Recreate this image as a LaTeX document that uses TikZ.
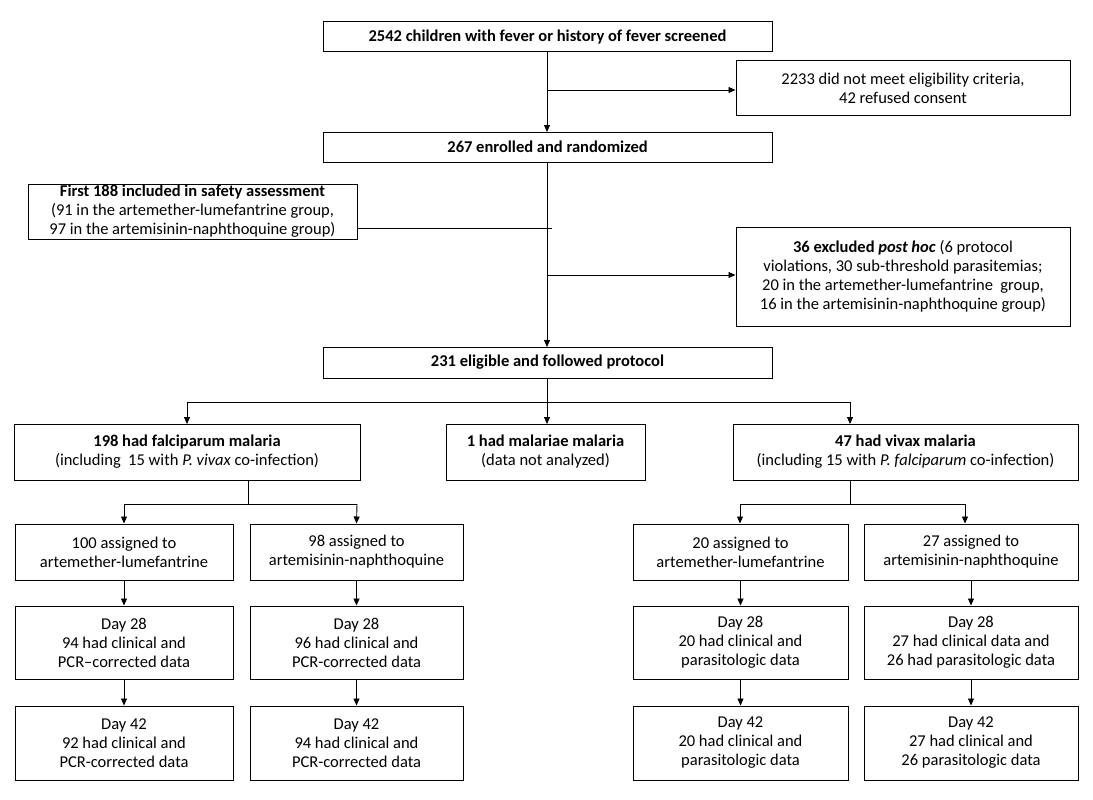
\documentclass[tikz,border=0pt]{standalone}
\usepackage{fontspec}
\setmainfont{Carlito}
\usetikzlibrary{arrows.meta}
\begin{document}
\begin{tikzpicture}[x=1pt,y=-1pt,
 bx/.style={draw,line width=1pt,align=center,inner sep=0pt,font=\fontsize{16.5}{19}\selectfont},
 ar/.style={-{Triangle[length=7pt,width=6pt]},line width=0.9pt},
 ln/.style={line width=0.9pt}]
\useasboundingbox (0,0) rectangle (1093,800);
\newcommand\B[6]{\node[bx,minimum width=#4-#2,minimum height=#5-#3] (#1) at ({(#2+#4)/2},{(#3+#5)/2}) {#6};}
\B{top}{323}{22}{772}{52}{\textbf{2542 children with fever or history of fever screened}}
\B{ex1}{736}{61}{1070}{115}{2233 did not meet eligibility criteria,\\42 refused consent}
\B{enr}{323}{132}{772}{162}{\textbf{267 enrolled and randomized}}
\B{saf}{28}{184}{357}{239}{\textbf{First 188 included in safety assessment}\\(91 in the artemether-lumefantrine group,\\97 in the artemisinin-naphthoquine group)}
\B{ex2}{736}{227}{1070}{326}{\textbf{36 excluded \textit{post hoc}} (6 protocol\\violations, 30 sub-threshold parasitemias;\\20 in the artemether-lumefantrine \ group,\\16 in the artemisinin-naphthoquine group)}
\B{eli}{323}{347}{772}{378}{\textbf{231 eligible and followed protocol}}
\B{fal}{14}{424}{360}{480}{\textbf{198 had falciparum malaria}\\(including \ 15 with \textit{P. vivax} co-infection)}
\B{mal}{446}{424}{645}{480}{\textbf{1 had malariae malaria}\\(data not analyzed)}
\B{viv}{733}{424}{1078}{480}{\textbf{47 had vivax malaria}\\(including 15 with \textit{P. falciparum} co-infection)}
\B{a1}{15}{524}{233}{580}{100 assigned to\\artemether-lumefantrine}
\B{a2}{250}{524}{463}{580}{98 assigned to\\artemisinin-naphthoquine}
\B{a3}{633}{524}{848}{580}{20 assigned to\\artemether-lumefantrine}
\B{a4}{864}{524}{1078}{580}{27 assigned to\\artemisinin-naphthoquine}
\B{b1}{15}{606}{233}{679}{Day 28\\94 had clinical and\\PCR–corrected data}
\B{b2}{250}{606}{463}{679}{Day 28\\96 had clinical and\\PCR-corrected data}
\B{b3}{633}{606}{848}{679}{Day 28\\20 had clinical and\\parasitologic data}
\B{b4}{864}{606}{1078}{679}{Day 28\\27 had clinical data and\\26 had parasitologic data}
\B{c1}{15}{706}{233}{780}{Day 42\\92 had clinical and\\PCR-corrected data}
\B{c2}{250}{706}{463}{780}{Day 42\\94 had clinical and\\PCR-corrected data}
\B{c3}{633}{706}{848}{780}{Day 42\\20 had clinical and\\parasitologic data}
\B{c4}{864}{706}{1078}{780}{Day 42\\27 had clinical and\\26 parasitologic data}
\draw[ar] (547,52) -- (547,132);
\draw[ar] (547,90) -- (ex1.west|-0,90);
\draw[ar] (547,162) -- (547,347);
\draw[ln] (saf.east|-0,228) -- (552,228);
\draw[ar] (547,275) -- (ex2.west|-0,275);
\draw[ln] (547,378) -- (547,402);
\draw[ln] (187,402) -- (850,402);
\draw[ar] (187,402) -- (187,424);
\draw[ar] (547,402) -- (547,424);
\draw[ar] (850,402) -- (850,424);
\draw[ln] (248,480) -- (248,504);
\draw[ln] (124,504) -- (357,504);
\draw[ar] (124,504) -- (a1.north);
\draw[ar] (357,504) -- (a2.north);
\draw[ln] (850,480) -- (850,504);
\draw[ln] (740,504) -- (965,504);
\draw[ar] (740,504) -- (a3.north-|740,0);
\draw[ar] (965,504) -- (a4.north-|965,0);
\foreach \u/\v in {a1/b1,a2/b2,a3/b3,a4/b4,b1/c1,b2/c2,b3/c3,b4/c4}
 \draw[ar] (\u.south) -- (\v.north);
\end{tikzpicture}
\end{document}
